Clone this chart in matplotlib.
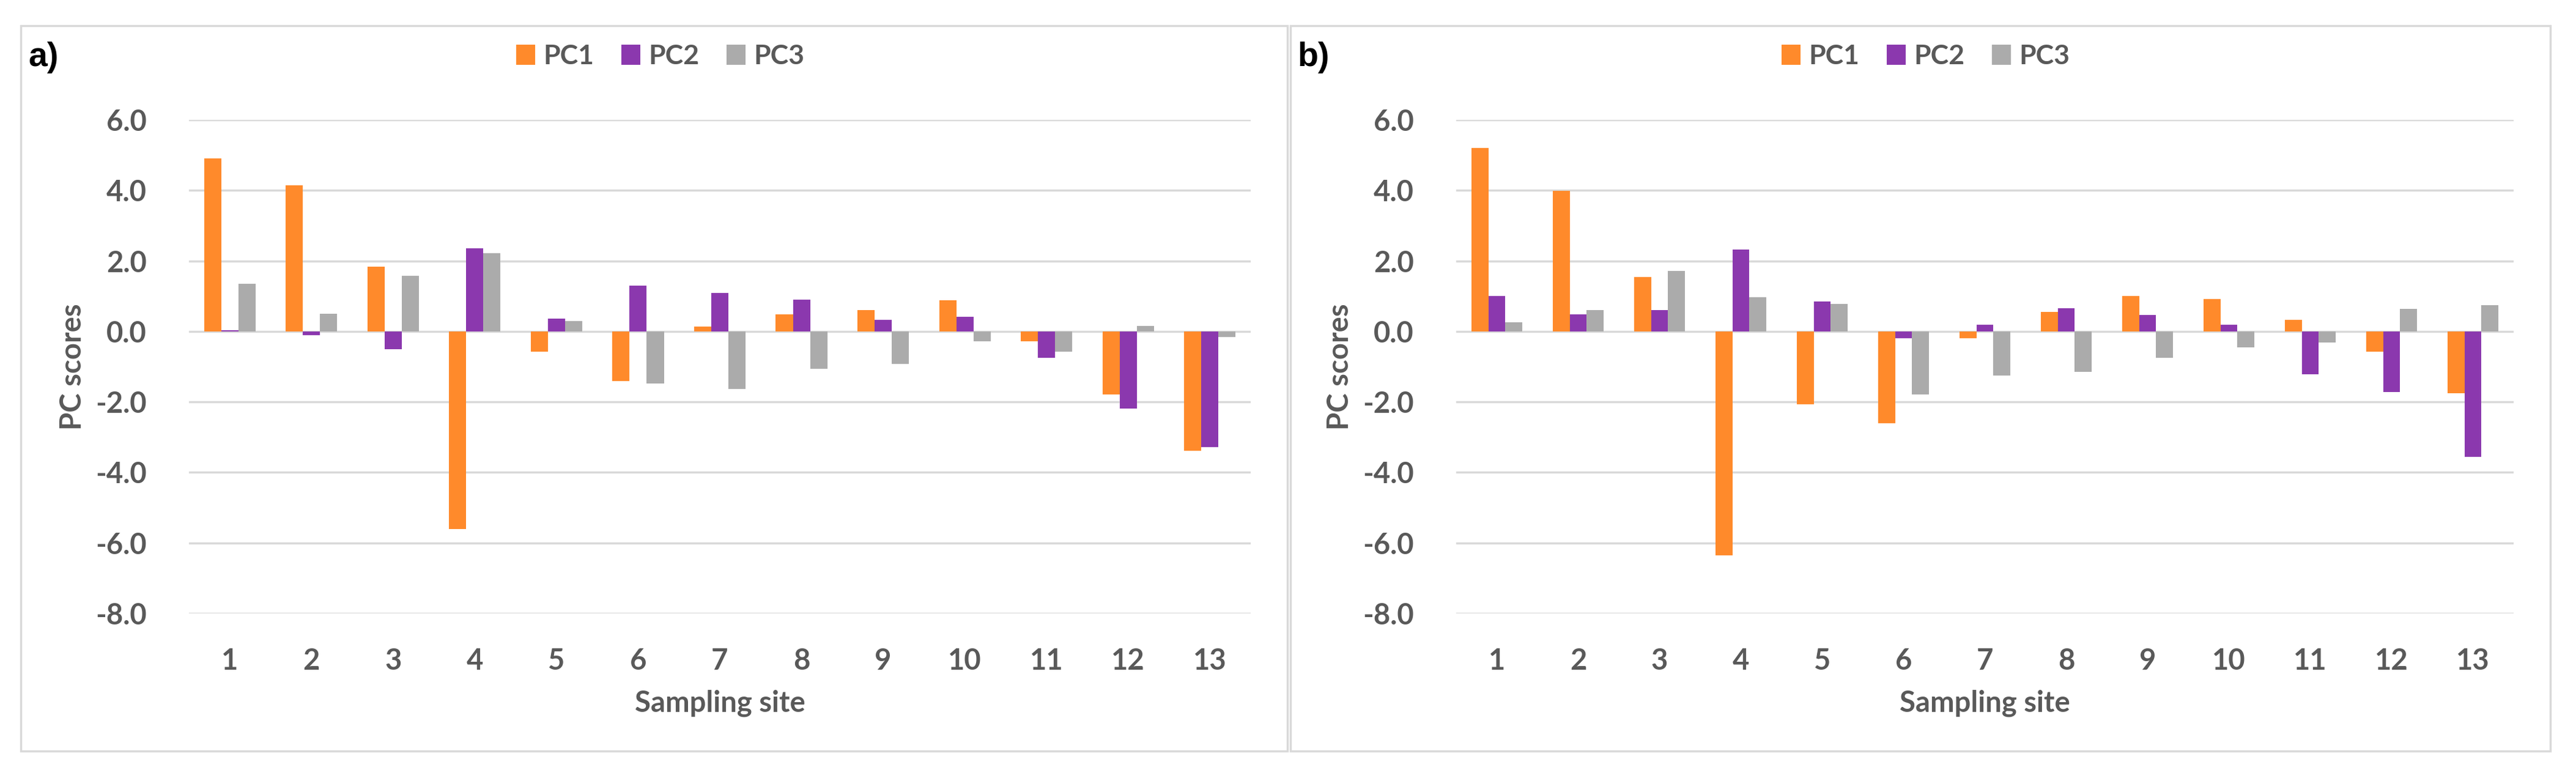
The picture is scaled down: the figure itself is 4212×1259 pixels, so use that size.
import numpy as np
import matplotlib.pyplot as plt
from matplotlib.patches import Rectangle

sites = [str(i) for i in range(1, 14)]
series = ['PC1', 'PC2', 'PC3']
colors = ['#FF8A2B', '#8B38AE', '#ABABAB']

# panel a
a_pc1 = [4.9, 4.15, 1.83, -5.6, -0.57, -1.40, 0.13, 0.48, 0.61, 0.88, -0.28, -1.79, -3.38]
a_pc2 = [0.03, -0.11, -0.50, 2.35, 0.37, 1.30, 1.09, 0.90, 0.33, 0.42, -0.75, -2.19, -3.28]
a_pc3 = [1.35, 0.50, 1.57, 2.21, 0.29, -1.48, -1.64, -1.06, -0.92, -0.28, -0.58, 0.15, -0.16]

# panel b
b_pc1 = [5.2, 3.99, 1.55, -6.35, -2.06, -2.60, -0.19, 0.55, 1.01, 0.92, 0.33, -0.57, -1.76]
b_pc2 = [1.00, 0.48, 0.61, 2.32, 0.84, -0.19, 0.19, 0.66, 0.46, 0.19, -1.21, -1.72, -3.56]
b_pc3 = [0.26, 0.61, 1.71, 0.97, 0.78, -1.79, -1.25, -1.15, -0.75, -0.45, -0.32, 0.64, 0.75]

yticks = [6, 4, 2, 0, -2, -4, -6, -8]

W, H = 4212, 1259
fig = plt.figure(figsize=(W / 100, H / 100), dpi=100)
plt.rcParams['font.family'] = ['Lato', 'DejaVu Sans']
txt = '#595959'
grid_c = '#D9D9D9'


def fx(px):
    return px / W


def fy(py):
    return 1 - py / H


panels = [
    ('a)', [a_pc1, a_pc2, a_pc3], 309, 2045, 34, 2105, 46),
    ('b)', [b_pc1, b_pc2, b_pc3], 2381, 4110, 2110, 4170, 2121),
]

x = np.arange(1, 14)
w = 0.21

for label, data, x0, x1, bx0, bx1, lx in panels:
    # panel frame
    fig.add_artist(Rectangle((fx(bx0), fy(1228)), fx(bx1 - bx0), (1228 - 42) / H,
                             fill=False, edgecolor=grid_c, linewidth=2.5,
                             transform=fig.transFigure))
    ax = fig.add_axes([fx(x0), fy(1003), fx(x1 - x0), (1003 - 196) / H])
    for i, vals in enumerate(data):
        ax.bar(x + (i - 1) * w, vals, width=w, color=colors[i], label=series[i], zorder=3)
    ax.set_xlim(0.5, 13.5)
    ax.set_ylim(-8, 6)
    ax.set_yticks(yticks)
    ax.set_yticklabels(['%.1f' % v for v in yticks])
    ax.set_xticks(x)
    ax.set_xticklabels(sites)
    ax.grid(axis='y', color=grid_c, linewidth=2.5, zorder=0)
    for s in ax.spines.values():
        s.set_visible(False)
    ax.tick_params(length=0, labelsize=34, labelcolor=txt, pad=40)
    ax.tick_params(axis='y', pad=50)
    for t in ax.get_xticklabels() + ax.get_yticklabels():
        t.set_fontweight('bold')
    ax.set_xlabel('Sampling site', fontsize=34, color=txt, fontweight='bold', labelpad=18)
    ax.set_ylabel('PC scores', fontsize=34, color=txt, fontweight='bold', va='center')
    ax.yaxis.set_label_coords(-190 / (x1 - x0), 0.5)
    ax.legend(loc='center', bbox_to_anchor=(0.444, 1.129), ncol=3, frameon=False,
              prop={'size': 32, 'weight': 'bold'}, labelcolor=txt,
              handlelength=0.7, handleheight=0.75, handletextpad=0.3, columnspacing=1.0)
    fig.text(fx(lx), fy(94), label, fontsize=40, fontweight='bold', color='black',
             family='Liberation Sans', va='center', ha='left')

fig.savefig('out.png', dpi=100, facecolor='white')
